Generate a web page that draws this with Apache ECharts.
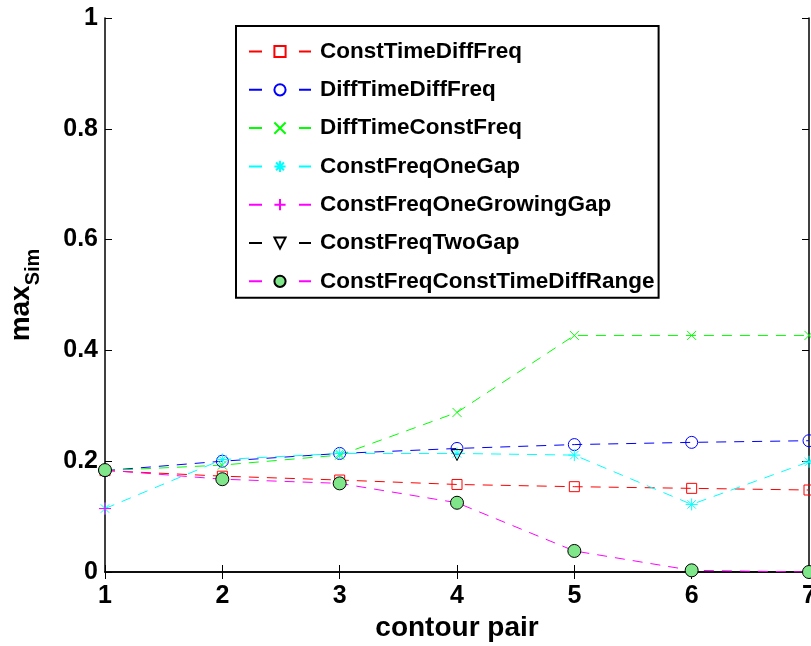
<!DOCTYPE html>
<html>
<head>
<meta charset="utf-8">
<script src="https://cdn.jsdelivr.net/npm/echarts@6/dist/echarts.min.js"></script>
<style>html,body{margin:0;padding:0;background:#fff}#c{width:811px;height:646px}</style>
</head>
<body>
<div id="c"></div>
<script>
var contourPairs = [1, 2, 3, 4, 5, 6, 7];
var constTimeDiffFreq = [0.183, 0.173, 0.166, 0.158, 0.154, 0.151, 0.148];
var diffTimeDiffFreq = [0.183, 0.200, 0.214, 0.223, 0.230, 0.234, 0.237];
var diffTimeConstFreq = [0.183, 0.193, 0.211, 0.288, 0.427, 0.427, 0.427];
var constFreqOneGap = [0.1145, 0.203, 0.214, 0.214, 0.211, 0.122, 0.199];
var constFreqOneGrowingGap = [0.1145, null, null, null, null, null, null];
var constFreqTwoGap = [null, null, null, 0.211, null, null, null];
var constFreqConstTimeDiffRange = [0.184, 0.1675, 0.160, 0.125, 0.038, 0.003, 0.0];
var xTicks = [1, 2, 3, 4, 5, 6, 7];
var yTicks = [0, 0.2, 0.4, 0.6, 0.8, 1];

function pairs(v) { return contourPairs.map(function (x, i) { return [x, v[i]]; }); }

var FONT = '"Liberation Sans", Arial, sans-serif';
var DASH = [10, 8];
var SYM = {
  x: 'path://M0,0L10,10M10,0L0,10',
  star: 'path://M5,0L5,10M0,5L10,5M1.5,1.5L8.5,8.5M8.5,1.5L1.5,8.5',
  plus: 'path://M5,0L5,10M0,5L10,5',
  tri: 'path://M0,0L10,0L5,9Z'
};
var CLEAR = 'rgba(0,0,0,0)';

function mk(name, data, color, symbol, size, fill, border) {
  return {
    name: name, type: 'line', data: pairs(data),
    symbol: symbol, symbolSize: size, showAllSymbol: true, connectNulls: false,
    lineStyle: { color: color, width: 1, type: DASH },
    itemStyle: { color: fill, borderColor: border || color, borderWidth: 1 },
    emphasis: { disabled: true }, animation: false
  };
}

var series = [
  mk('ConstTimeDiffFreq', constTimeDiffFreq, '#ff0000', 'rect', 10, CLEAR),
  mk('DiffTimeDiffFreq', diffTimeDiffFreq, '#0000ff', 'circle', 12, CLEAR),
  mk('DiffTimeConstFreq', diffTimeConstFreq, '#00ff00', SYM.x, 9, CLEAR),
  mk('ConstFreqOneGap', constFreqOneGap, '#00ffff', SYM.star, 12, CLEAR),
  mk('ConstFreqOneGrowingGap', constFreqOneGrowingGap, '#ff00ff', SYM.plus, 12, CLEAR),
  mk('ConstFreqTwoGap', constFreqTwoGap, '#000000', SYM.tri, 11, CLEAR),
  mk('ConstFreqConstTimeDiffRange', constFreqConstTimeDiffRange, '#ff00ff', 'circle', 13, '#80e68a', '#000000')
];

var axisLine = { show: true, lineStyle: { color: '#000', width: 1.5 } };
var tick = { show: true, inside: true, length: 7, lineStyle: { color: '#000', width: 1 } };

var chart = echarts.init(document.getElementById('c'), null, { renderer: 'canvas' });
chart.setOption({
  animation: false,
  backgroundColor: '#fff',
  grid: { left: 105, right: 2, top: 18, bottom: 74, containLabel: false, outerBoundsMode: 'none' },
  legend: {
    left: 236, top: 26, orient: 'vertical',
    backgroundColor: '#fff', borderColor: '#000', borderWidth: 2,
    padding: [14, 4, 5, 12],
    itemWidth: 62, itemHeight: 14, itemGap: 15.3,
    lineStyle: { type: [13, 37] },
    textStyle: { fontFamily: FONT, fontSize: 22.5, fontWeight: 'bold', color: '#000', lineHeight: 20, padding: [0, 0, 0, 4] },
    data: series.map(function (s) { return s.name; })
  },
  xAxis: [{
    type: 'value', min: 1, max: 7, interval: 1, position: 'bottom',
    axisLine: axisLine, axisTick: tick, splitLine: { show: false },
    axisLabel: { fontFamily: FONT, fontSize: 25, fontWeight: 'bold', color: '#000', margin: 12 },
    name: 'contour pair', nameLocation: 'middle', nameGap: 42,
    nameTextStyle: { fontFamily: FONT, fontSize: 28, fontWeight: 'bold', color: '#000' }
  }, {
    type: 'value', min: 1, max: 7, interval: 1, position: 'top',
    axisLine: axisLine, axisTick: tick, splitLine: { show: false }, axisLabel: { show: false }
  }],
  yAxis: [{
    type: 'value', min: 0, max: 1, interval: 0.2, position: 'left',
    axisLine: axisLine, axisTick: tick, splitLine: { show: false },
    axisLabel: { fontFamily: FONT, fontSize: 25, fontWeight: 'bold', color: '#000', margin: 7 },
    name: '{a|max}{b|Sim}', nameLocation: 'middle', nameGap: 70, nameRotate: 90,
    nameTextStyle: {
      fontFamily: FONT, color: '#000',
      rich: {
        a: { fontFamily: FONT, fontSize: 28, fontWeight: 'bold', color: '#000', verticalAlign: 'bottom', lineHeight: 30 },
        b: { fontFamily: FONT, fontSize: 20, fontWeight: 'bold', color: '#000', verticalAlign: 'bottom', lineHeight: 30, padding: [0, 0, -8, 0] }
      }
    }
  }, {
    type: 'value', min: 0, max: 1, interval: 0.2, position: 'right',
    axisLine: axisLine, axisTick: tick, splitLine: { show: false }, axisLabel: { show: false }
  }],
  series: series
});
</script>
</body>
</html>
